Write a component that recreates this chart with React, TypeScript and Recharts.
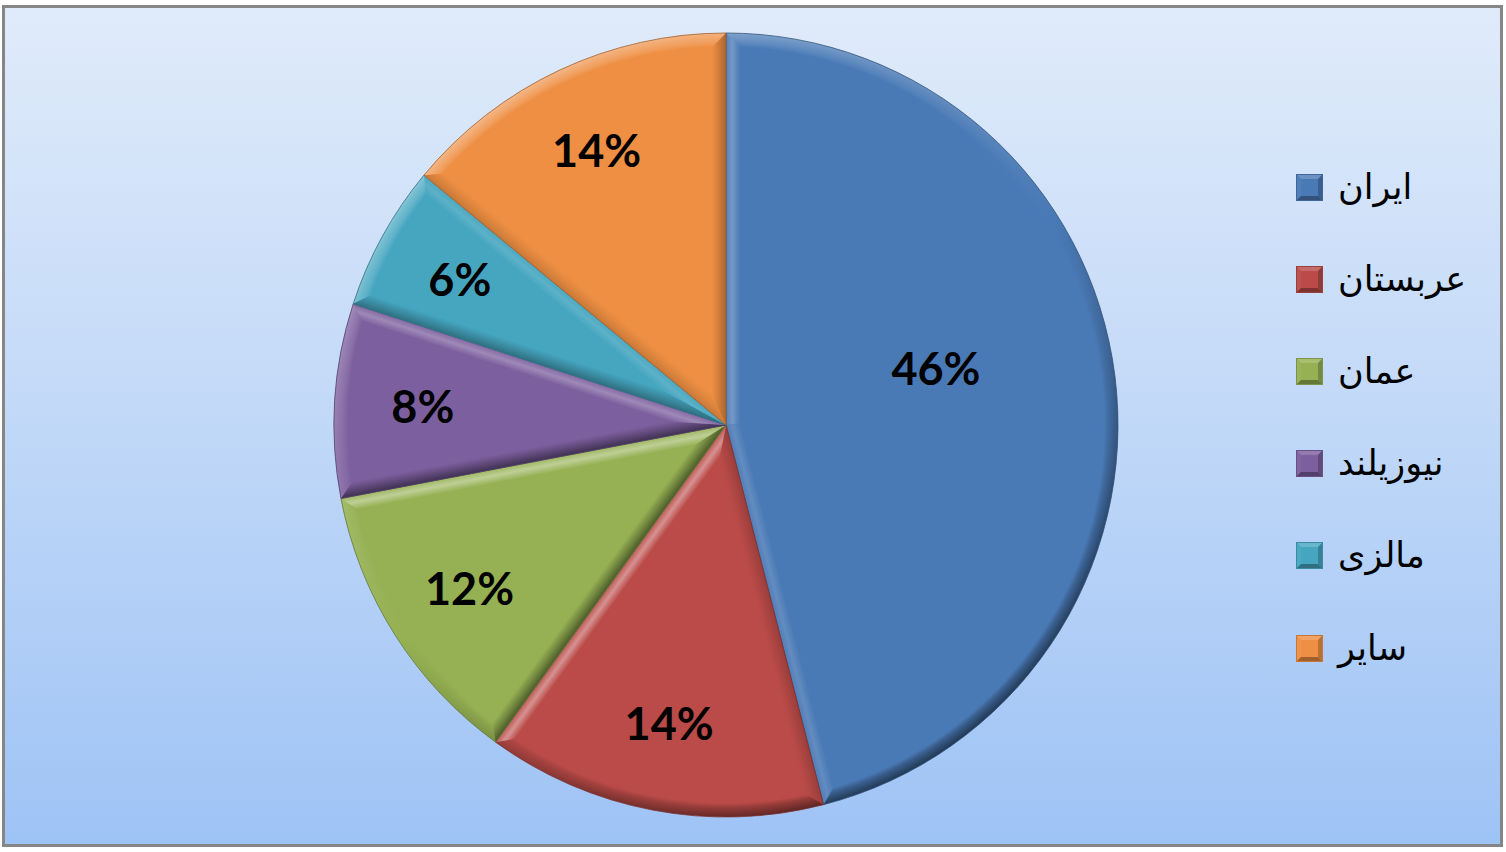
import React from 'react';
import { PieChart, Pie, Cell, Legend } from 'recharts';

const categories = ['ایران', 'عربستان', 'عمان', 'نیوزیلند', 'مالزی', 'سایر'];
const shares = [46, 14, 12, 8, 6, 14];
const colors = ['#4a7ab6', '#ba4b48', '#95b153', '#7c5f9e', '#46a6c0', '#ee8f43'];

const data = categories.map((name, i) => ({ name, value: shares[i] }));

const W = 1506;
const H = 852;
const CX = 726;
const CY = 425;
const OUTER = 392;
const BEVEL = 14;
const LIGHT = [-0.55, -0.835];
const RAD = Math.PI / 180;

function hexToRgb(h: string): number[] {
  const s = h.replace('#', '');
  return [0, 2, 4].map((i) => parseInt(s.slice(i, i + 2), 16));
}
function mix(hex: string, target: number[], t: number): string {
  const c = hexToRgb(hex);
  const r = c.map((v, i) => Math.round(v + (target[i] - v) * t));
  return `rgb(${r[0]},${r[1]},${r[2]})`;
}
function shade(hex: string, t: number): string {
  return t >= 0 ? mix(hex, [255, 255, 255], t * 0.4) : mix(hex, [0, 0, 0], -t * 0.55);
}

const StripGradient = ({ id, from, normal, d, color, t }: any) => {
  const x1 = from[0];
  const y1 = from[1];
  const x2 = x1 - normal[0] * d;
  const y2 = y1 - normal[1] * d;
  const stops =
    t >= 0
      ? [
          [0, shade(color, t * 0.25)],
          [0.45, shade(color, t * 1.05)],
          [1, color],
        ]
      : [
          [0, shade(color, t * 0.95)],
          [0.5, shade(color, t * 0.45)],
          [1, color],
        ];
  return (
    <linearGradient id={id} gradientUnits="userSpaceOnUse" x1={x1} y1={y1} x2={x2} y2={y2}>
      {stops.map(([o, c]: any, k: number) => (
        <stop key={k} offset={o} stopColor={c} />
      ))}
    </linearGradient>
  );
};

const BevelSector = (props: any) => {
  const { cx, cy, outerRadius, startAngle, endAngle, index } = props;
  const color = colors[index % colors.length];
  const R = outerRadius;
  const d = BEVEL;
  const rho = R - d;
  const hi = Math.max(startAngle, endAngle);
  const lo = Math.min(startAngle, endAngle);
  const xy = (r: number, a: number) => [cx + r * Math.cos(a * RAD), cy - r * Math.sin(a * RAD)];
  const pt = (r: number, a: number) => xy(r, a).join(',');
  const span = hi - lo;
  const p1 = pt(R, hi);
  const p2 = pt(R, lo);
  const full = `M${cx},${cy} L${p1} A${R},${R} 0 ${span > 180 ? 1 : 0} 1 ${p2} Z`;
  const delta = Math.asin(d / rho) / RAD;
  const hiI = hi - delta;
  const loI = lo + delta;
  const h = (span / 2) * RAD;
  const apexDist = d / Math.sin(h);
  const mid = (hi + lo) / 2;
  const apex = pt(apexDist, mid);
  const q1 = pt(rho, hiI);
  const q2 = pt(rho, loI);
  const inner = `M${apex} L${q1} A${rho},${rho} 0 ${hiI - loI > 180 ? 1 : 0} 1 ${q2} Z`;
  const nHi = [-Math.sin(hi * RAD), -Math.cos(hi * RAD)];
  const nLo = [Math.sin(lo * RAD), Math.cos(lo * RAD)];
  const tHi = nHi[0] * LIGHT[0] + nHi[1] * LIGHT[1];
  const tLo = nLo[0] * LIGHT[0] + nLo[1] * LIGHT[1];
  const stripHi = `M${cx},${cy} L${p1} L${q1} L${apex} Z`;
  const stripLo = `M${cx},${cy} L${p2} L${q2} L${apex} Z`;
  return (
    <g>
      <defs>
        <StripGradient id={`sh${index}`} from={[cx, cy]} normal={nHi} d={d} color={color} t={tHi} />
        <StripGradient id={`sl${index}`} from={[cx, cy]} normal={nLo} d={d} color={color} t={tLo} />
      </defs>
      <path d={full} fill={`url(#rim${index})`} />
      <path d={full} fill={`url(#fade${index})`} />
      <path d={stripHi} fill={`url(#sh${index})`} />
      <path d={stripLo} fill={`url(#sl${index})`} />
      <path d={inner} fill={color} />
      <path d={full} fill="none" stroke={shade(color, -0.6)} strokeWidth={0.8} />
    </g>
  );
};

const renderLabel = (p: any) => {
  const { cx, cy, midAngle, outerRadius, percent, value } = p;
  const big = percent > 0.3;
  const r = outerRadius * (big ? 0.555 : 0.775);
  const a = (midAngle + (big ? 8 : 0)) * RAD;
  return (
    <text
      x={cx + r * Math.cos(a)}
      y={cy - r * Math.sin(a)}
      textAnchor="middle"
      dominantBaseline="central"
      fill="#000"
      fontFamily="Lato, 'Open Sans', sans-serif"
      fontWeight={700}
      fontSize={45}
    >
      {`${value}%`}
    </text>
  );
};

const LegendSquare = ({ color }: { color: string }) => (
  <svg width={27} height={27} style={{ display: 'block' }}>
    <rect x={0} y={0} width={27} height={27} fill={color} />
    <polygon points="0,0 27,0 13.5,13.5" fill={shade(color, 0.45)} />
    <polygon points="0,0 0,27 13.5,13.5" fill={shade(color, 0.1)} />
    <polygon points="27,0 27,27 13.5,13.5" fill={shade(color, -0.4)} />
    <polygon points="0,27 27,27 13.5,13.5" fill={shade(color, -0.6)} />
    <rect x={5} y={5} width={17} height={17} fill={color} />
    <rect x={0.5} y={0.5} width={26} height={26} fill="none" stroke={shade(color, -0.3)} strokeWidth={1} />
  </svg>
);

const renderLegend = () => (
  <div style={{ display: 'flex', flexDirection: 'column' }}>
    {categories.map((c, i) => (
      <div key={c} style={{ height: 92.2, display: 'flex', alignItems: 'center' }}>
        <LegendSquare color={colors[i]} />
        <span
          style={{
            marginLeft: 15,
            fontFamily: "'DejaVu Sans', sans-serif",
            fontSize: 35,
            color: '#000',
            lineHeight: 1,
          }}
        >
          {c}
        </span>
      </div>
    ))}
  </div>
);

export default function App() {
  const fadeStart = ((OUTER - BEVEL) / OUTER) * 100;
  return (
    <div style={{ position: 'absolute', left: 0, top: 0, width: W, height: H, background: '#fff' }}>
      <div
        style={{
          position: 'absolute',
          left: 2,
          top: 5,
          width: 1501,
          height: 842,
          boxSizing: 'border-box',
          border: '3px solid #868686',
          background: 'linear-gradient(to bottom, #e0ebfa 0%, #c4daf8 45%, #9ec3f5 100%)',
        }}
      />
      <div style={{ position: 'absolute', left: 0, top: 0 }}>
        <PieChart width={W} height={H} margin={{ top: 0, right: 0, bottom: 0, left: 0 }}>
          <defs>
            {colors.map((c, i) => (
              <linearGradient
                key={`r${i}`}
                id={`rim${i}`}
                gradientUnits="userSpaceOnUse"
                x1={CX + OUTER * LIGHT[0]}
                y1={CY + OUTER * LIGHT[1]}
                x2={CX - OUTER * LIGHT[0]}
                y2={CY - OUTER * LIGHT[1]}
              >
                <stop offset="0%" stopColor={shade(c, 0.9)} />
                <stop offset="50%" stopColor={c} />
                <stop offset="100%" stopColor={shade(c, -1)} />
              </linearGradient>
            ))}
            {colors.map((c, i) => (
              <radialGradient
                key={`f${i}`}
                id={`fade${i}`}
                gradientUnits="userSpaceOnUse"
                cx={CX}
                cy={CY}
                r={OUTER}
              >
                <stop offset={`${fadeStart}%`} stopColor={c} stopOpacity={1} />
                <stop offset={`${fadeStart + 35 * (100 - fadeStart) / 100}%`} stopColor={c} stopOpacity={0.55} />
                <stop offset="100%" stopColor={c} stopOpacity={0} />
              </radialGradient>
            ))}
          </defs>
          <Pie
            data={data}
            dataKey="value"
            nameKey="name"
            cx={CX}
            cy={CY}
            outerRadius={OUTER}
            startAngle={90}
            endAngle={-270}
            stroke="none"
            isAnimationActive={false}
            label={renderLabel}
            labelLine={false}
            shape={BevelSector}
          >
            {data.map((d, i) => (
              <Cell key={d.name} fill={colors[i]} />
            ))}
          </Pie>
          <Legend
            content={renderLegend}
            wrapperStyle={{ position: 'absolute', left: 1296, top: 141, width: 200 }}
          />
        </PieChart>
      </div>
    </div>
  );
}
